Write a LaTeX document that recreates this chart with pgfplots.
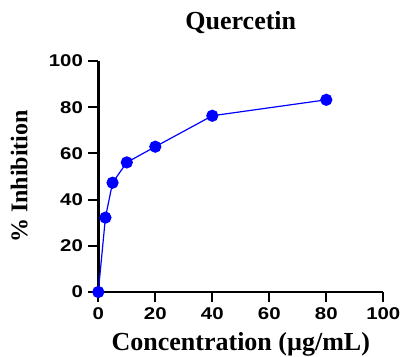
\documentclass[border=0pt]{standalone}
\usepackage{fontspec}
\setmainfont{Liberation Serif}
\newfontfamily\ticksans{Liberation Sans}
\usepackage{pgfplots}
\pgfplotsset{compat=1.18}
\usetikzlibrary{calc}
\begin{document}
\begin{tikzpicture}
\begin{axis}[
  name=ax,
  at={(0,0)}, anchor=south west,
  scale only axis,
  width=285pt, height=231pt,
  xmin=0, xmax=100, ymin=0, ymax=100,
  xtick={0,20,...,100}, ytick={0,20,...,100},
  axis lines*=left,
  axis line style={line width=2.5pt, black},
  tick style={line width=2.2pt, black},
  tick align=outside,
  major tick length=10pt,
  clip=false,
  /pgf/number format/assume math mode=true,
  ticklabel style={font=\ticksans\bfseries\fontsize{17}{20}\selectfont, xscale=1.2},
  xticklabel style={anchor=north, yshift=-2pt},
  yticklabel style={anchor=east, xshift=-1pt},
  title={\bfseries Quercetin},
  title style={font=\fontsize{26}{30}\selectfont, at={(axis description cs:0.5,1)}, anchor=base, yshift=25pt},
  xlabel={\bfseries Concentration (µg/mL)},
  xlabel style={font=\fontsize{26}{30}\selectfont, at={(axis description cs:0.5,0)}, anchor=base, yshift=-58pt},
  ylabel={\bfseries \% Inhibition},
  ylabel style={font=\fontsize{24}{28}\selectfont, at={(axis description cs:-0.2772,0.5)}, anchor=center},
]
\addplot[color=blue, line width=1.2pt, mark=*, mark size=5.5pt, mark options={fill=blue, draw=blue}]
coordinates {(0,0) (2.5,32.2) (5,47.3) (10,56.1) (20,62.9) (40,76.3) (80,83.2)};
\end{axis}
\pgfresetboundingbox
\path[use as bounding box] ($(ax.south west)+(-98.3pt,-64pt)$) rectangle ($(ax.south west)+(305.7pt,292pt)$);
\end{tikzpicture}
\end{document}
